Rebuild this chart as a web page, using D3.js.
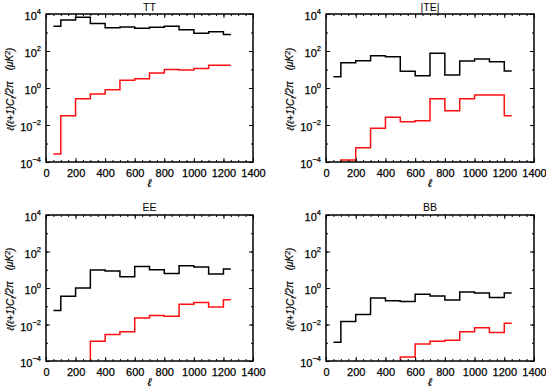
<!DOCTYPE html>
<html><head><meta charset="utf-8">
<script src="https://cdn.jsdelivr.net/npm/d3@7"></script>
<style>
html,body{margin:0;padding:0;background:#fff;}
svg text{font-family:"Liberation Sans",Arial,sans-serif;fill:#000;}
</style></head>
<body><svg id="c" width="546" height="388"></svg>
<script>
// ---- data ----
const ellCenters = [50,150,250,350,450,550,650,750,850,950,1050,1150,1250];
const panelTitles = ["TT","|TE|","EE","BB"];
const ttSignal = [2200,4800,6600,3100,1800,2000,1700,1900,2200,1400,900,1100,790];
const ttNoise  = [2.7e-4,0.032,0.26,0.48,0.8,2.6,3.2,6.4,10,9.3,11.4,17,17];
const teSignal = [4,23,30,56,49,8,4.6,75,5,29,37,26,8.3];
const teNoise  = [1e-6,1.3e-4,5.9e-4,6.6e-3,0.026,0.015,0.017,0.26,0.059,0.26,0.42,0.42,0.032];
const eeSignal = [0.058,0.35,1.0,9.6,8.5,4.2,15,10,6.3,16.5,14,5.8,11];
const eeNoise  = [1e-6,1e-6,1e-6,1.2e-3,2.8e-3,4e-3,0.023,0.031,0.028,0.13,0.16,0.091,0.23];
const bbSignal = [1.05e-3,0.0145,0.035,0.28,0.2,0.18,0.45,0.36,0.22,0.6,0.53,0.3,0.53];
const bbNoise  = [1e-6,1e-6,1e-6,1e-6,1e-6,1.65e-4,8.5e-4,1.2e-3,1.35e-3,4e-3,6.6e-3,3.6e-3,0.0117];
const xTickValues = [0,200,400,600,800,1000,1200,1400];
const xMinorTicks = d3.range(0,1401,50);
const yTickExponents = [-4,-2,0,2,4];
const yMinorExponents = [-4,-3,-2,-1,0,1,2,3,4];
const xDomain = [0,1400];
const yDomain = [1e-4,1e4];

const signals = [ttSignal, teSignal, eeSignal, bbSignal];
const noises  = [ttNoise, teNoise, eeNoise, bbNoise];

// ---- layout ----
const boxes = [
  {x0:46, x1:253, y0:14, y1:162, titleY:10.5, labY:187},
  {x0:326, x1:534, y0:14, y1:162, titleY:10.5, labY:187},
  {x0:46, x1:253, y0:215, y1:361, titleY:210.5, labY:386},
  {x0:326, x1:534, y0:215, y1:361, titleY:210.5, labY:386}
];

const svg = d3.select("#c");
const defs = svg.append("defs");

boxes.forEach((b,i)=>{
  const x = d3.scaleLinear().domain(xDomain).range([b.x0,b.x1]);
  const y = d3.scaleLog().domain(yDomain).range([b.y1,b.y0]);
  const g = svg.append("g");
  defs.append("clipPath").attr("id","clip"+i).append("rect")
    .attr("x",b.x0).attr("y",b.y0).attr("width",b.x1-b.x0).attr("height",b.y1-b.y0);

  const line = d3.line().x((d,j)=>x(ellCenters[j])).y(d=>y(d)).curve(d3.curveStep);
  const pg = g.append("g").attr("clip-path","url(#clip"+i+")");
  pg.append("path").datum(signals[i]).attr("d",line)
    .attr("fill","none").attr("stroke","#000").attr("stroke-width",1.5);
  pg.append("path").datum(noises[i]).attr("d",line)
    .attr("fill","none").attr("stroke","#ff1010").attr("stroke-width",1.5);

  const styleAxis = sel => { sel.select(".domain").remove(); sel.selectAll("line").attr("stroke","#000").attr("stroke-width",1); };

  const mk = (ax, vals, size) => ax.tickValues(vals).tickSize(-size).tickFormat("");
  g.append("g").attr("transform",`translate(0,${b.y1})`).call(mk(d3.axisBottom(x), xMinorTicks, 2)).call(styleAxis);
  g.append("g").attr("transform",`translate(0,${b.y0})`).call(mk(d3.axisTop(x), xMinorTicks, 2)).call(styleAxis);
  g.append("g").attr("transform",`translate(0,${b.y0})`).call(mk(d3.axisTop(x), xTickValues, 4)).call(styleAxis);
  const yMin = yMinorExponents.map(e=>Math.pow(10,e));
  const yMaj = yTickExponents.map(e=>Math.pow(10,e));
  g.append("g").attr("transform",`translate(${b.x0},0)`).call(mk(d3.axisLeft(y), yMin, 2)).call(styleAxis);
  g.append("g").attr("transform",`translate(${b.x1},0)`).call(mk(d3.axisRight(y), yMin, 2)).call(styleAxis);
  g.append("g").attr("transform",`translate(${b.x1},0)`).call(mk(d3.axisRight(y), yMaj, 4)).call(styleAxis);

  const xa = g.append("g").attr("transform",`translate(0,${b.y1})`)
    .call(d3.axisBottom(x).tickValues(xTickValues).tickSize(-4).tickPadding(7).tickFormat(d3.format("d")));
  styleAxis(xa);
  xa.selectAll("text").attr("font-size",11).style("font-family","Liberation Sans, Arial, sans-serif")
    .attr("stroke","#000").attr("stroke-width",0.25);

  const ya = g.append("g").attr("transform",`translate(${b.x0},0)`)
    .call(d3.axisLeft(y).tickValues(yMaj).tickSize(-4).tickPadding(5).tickFormat(""));
  styleAxis(ya);
  ya.selectAll(".tick text").each(function(d){
    const t = d3.select(this).attr("font-size",11).attr("dy","0.5em")
      .attr("stroke","#000").attr("stroke-width",0.25);
    const e = Math.round(Math.log10(d));
    t.text(null);
    t.append("tspan").text("10");
    t.append("tspan").attr("font-size",7.5).attr("dy","-0.75em").text(e<0?"\u2212"+(-e):String(e));
  });

  g.append("rect").attr("x",b.x0).attr("y",b.y0).attr("width",b.x1-b.x0).attr("height",b.y1-b.y0)
    .attr("fill","none").attr("stroke","#000").attr("stroke-width",1.5);

  g.append("text").attr("x",(b.x0+b.x1)/2).attr("y",b.titleY).attr("text-anchor","middle")
    .attr("font-size",10.5).text(panelTitles[i]);

  g.append("text").attr("x",(b.x0+b.x1)/2).attr("y",b.labY).attr("text-anchor","middle")
    .attr("font-size",11).attr("font-style","italic").attr("stroke","#000").attr("stroke-width",0.25).text("\u2113");

  const cy = (b.y0+b.y1)/2 + 1;
  const yl = g.append("text").attr("transform",`translate(${b.x0-32},${cy}) rotate(-90)`)
    .attr("text-anchor","middle").attr("font-size",10).attr("font-style","italic")
    .attr("stroke","#000").attr("stroke-width",0.2);
  yl.append("tspan").text("\u2113(\u2113+1)C");
  yl.append("tspan").attr("font-size",7).attr("dy","0.3em").text("\u2113");
  yl.append("tspan").attr("dy","-0.3em").text("/2\u03c0\u00a0\u00a0\u00a0\u00a0(\u03bcK");
  yl.append("tspan").attr("font-size",7).attr("dy","-0.45em").text("2");
  yl.append("tspan").attr("dy","0.45em").text(")");
});
</script></body></html>
